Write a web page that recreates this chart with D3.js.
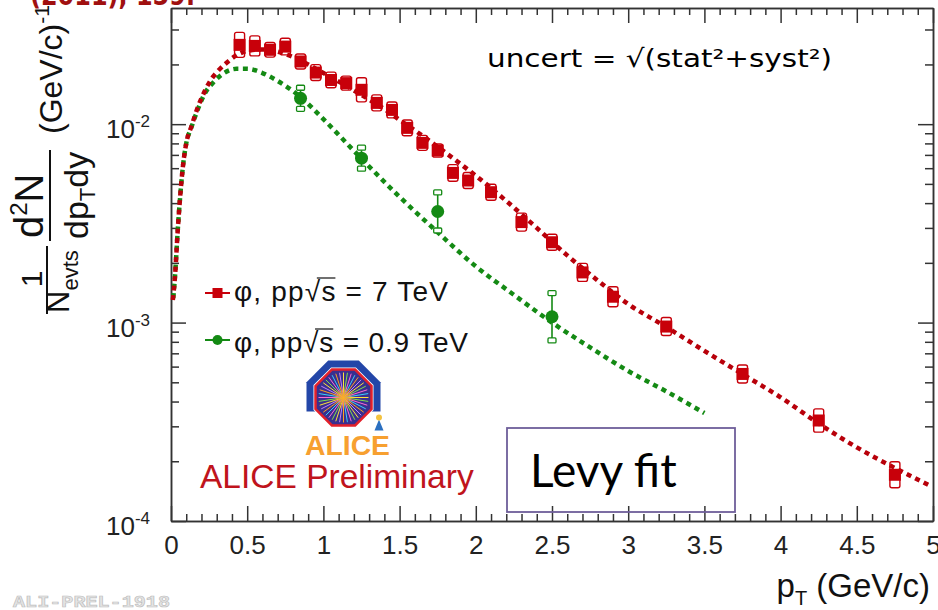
<!DOCTYPE html>
<html>
<head>
<meta charset="utf-8">
<script src="https://cdn.jsdelivr.net/npm/d3@7"></script>
<style>
    body { margin: 0; background: #fff; }
    svg { display: block; font-family: "Liberation Sans", Arial, sans-serif; }
</style>
</head>
<body>
<div id="wrapper"></div>
<script>
// phi meson pT spectra
const ptRed = [0.45, 0.55, 0.65, 0.75, 0.85, 0.95, 1.05, 1.15, 1.25, 1.35, 1.45, 1.55, 1.65, 1.75, 1.85, 1.95, 2.1, 2.3, 2.5, 2.7, 2.9, 3.25, 3.75, 4.25, 4.75]
const yieldRed = [0.0251, 0.0248, 0.0237, 0.0246, 0.0207, 0.0182, 0.0167, 0.0161, 0.0149, 0.0128, 0.0118, 0.00958, 0.00805, 0.00736, 0.00568, 0.00520, 0.00454, 0.00321, 0.00254, 0.00179, 0.00135, 0.000955, 0.000551, 0.000321, 0.000171]
const errRed = [0.156, 0.123, 0.088, 0.101, 0.091, 0.097, 0.095, 0.085, 0.150, 0.097, 0.097, 0.095, 0.091, 0.079, 0.101, 0.097, 0.097, 0.110, 0.097, 0.110, 0.123, 0.110, 0.110, 0.145, 0.163]

const ptGreen = [0.85, 1.25, 1.75, 2.5]
const yieldGreen = [0.0135, 0.00674, 0.00363, 0.00107]
const errGreen = [0.130, 0.130, 0.247, 0.316]

// Levy fit curves, sampled by eye along the dotted lines
const fitRedPt = [0.012, 0.026, 0.044, 0.06, 0.08, 0.10, 0.135, 0.18, 0.22, 0.27, 0.31, 0.365, 0.42, 0.5, 0.6, 0.7, 0.8, 0.9, 1.0, 1.1, 1.2, 1.3, 1.4, 1.5, 1.6, 1.7, 1.8, 1.9, 2.0, 2.2, 2.4, 2.6, 2.8, 3.0, 3.25, 3.5, 3.75, 4.0, 4.25, 4.5, 4.75, 4.97]
const fitRedVal = [0.00130, 0.0017, 0.0029, 0.0043, 0.0063, 0.0080, 0.0098, 0.0124, 0.0146, 0.0171, 0.0186, 0.0204, 0.0220, 0.0234, 0.0238, 0.0232, 0.0218, 0.0200, 0.0181, 0.0164, 0.0148, 0.0133, 0.0119, 0.0105, 0.0093, 0.0082, 0.0072, 0.0063, 0.0055, 0.0041, 0.0030, 0.00218, 0.00163, 0.00124, 0.00095, 0.00072, 0.00055, 0.00042, 0.00031, 0.000235, 0.000185, 0.000152]
const fitGreenPt = [0.015, 0.026, 0.044, 0.06, 0.08, 0.10, 0.135, 0.18, 0.22, 0.28, 0.33, 0.43, 0.5, 0.6, 0.7, 0.85, 1.0, 1.25, 1.5, 1.75, 2.0, 2.25, 2.5, 2.75, 3.0, 3.25, 3.5]
const fitGreenVal = [0.00133, 0.0017, 0.0029, 0.0043, 0.0063, 0.0080, 0.0097, 0.0121, 0.0142, 0.0163, 0.0177, 0.0190, 0.0190, 0.0181, 0.0165, 0.0137, 0.0106, 0.0067, 0.0043, 0.00285, 0.00192, 0.00138, 0.00100, 0.00075, 0.00057, 0.00045, 0.00035]

const xTickLabels = [0, 0.5, 1, 1.5, 2, 2.5, 3, 3.5, 4, 4.5, 5]
const yTickLabels = [1e-4, 1e-3, 1e-2]
const yTickExp = ["-4", "-3", "-2"]

const legendLabels = ["7", "0.9"]

const red = "#c8000a"
const redLine = "#b8000a"
const green = "#148a14"
const axisColor = "#333"

const width = 938
const height = 610

const xScale = d3.scaleLinear().domain([0, 5]).range([171, 933])
const yScale = d3.scaleLog().domain([1e-4, 0.0385]).range([521, 8])

const svg = d3.select("#wrapper").append("svg")
    .attr("width", width)
    .attr("height", height)

// frame with inward ticks on all four sides
const minorX = d3.range(0, 51).map(i => i / 10).filter(v => !xTickLabels.includes(v))
const minorY = []
for (const e of [-4, -3, -2]) {
    for (let m = 2; m <= 9; m++) {
        const v = m * Math.pow(10, e)
        if (v <= 0.0385) minorY.push(v)
    }
}

function frameAxis(gen, values, size, transform, labels) {
    const g = svg.append("g").attr("transform", transform)
        .call(gen.tickValues(values).tickSizeInner(-size).tickSizeOuter(0)
            .tickPadding(15).tickFormat(labels ? (d => d) : ""))
    g.selectAll("line,path").attr("stroke", axisColor).attr("stroke-width", 1.5)
    g.selectAll("text").attr("font-size", 26).attr("fill", "#222")
        .attr("font-family", "Liberation Sans, Arial, sans-serif")
    return g
}

frameAxis(d3.axisBottom(xScale), minorX, 7, "translate(0,521)")
frameAxis(d3.axisBottom(xScale), xTickLabels, 15, "translate(0,521)", true)
frameAxis(d3.axisTop(xScale), minorX, 7, "translate(0,8)")
frameAxis(d3.axisTop(xScale), xTickLabels, 15, "translate(0,8)")
frameAxis(d3.axisLeft(yScale), minorY, 8, "translate(171,0)")
frameAxis(d3.axisLeft(yScale), yTickLabels, 15, "translate(171,0)")
frameAxis(d3.axisRight(yScale), minorY, 8, "translate(933,0)")
frameAxis(d3.axisRight(yScale), yTickLabels, 15, "translate(933,0)")

// y tick labels with exponents
yTickLabels.forEach((v, i) => {
    const t = svg.append("text")
        .attr("x", 150)
        .attr("y", yScale(v) + 14)
        .attr("text-anchor", "end")
        .attr("font-size", 26)
        .attr("fill", "#222")
    t.append("tspan").text("10")
    t.append("tspan").attr("font-size", 17).attr("dy", -11).text(yTickExp[i])
})

// x axis title
const xTitle = svg.append("text")
    .attr("x", 930)
    .attr("y", 597)
    .attr("text-anchor", "end")
    .attr("font-size", 33)
    .attr("fill", "#111")
xTitle.append("tspan").text("p")
xTitle.append("tspan").attr("font-size", 20).attr("dy", 8).text("T")
xTitle.append("tspan").attr("dy", -8).text(" (GeV/c)")

// y axis title, drawn in a rotated frame
const yTitle = svg.append("g")
    .attr("transform", "rotate(-90)")
    .attr("fill", "#111")
yTitle.append("text").attr("x", -279).attr("y", 42).attr("text-anchor", "middle")
    .attr("font-size", 30).text("1")
yTitle.append("line").attr("x1", -314).attr("x2", -246).attr("y1", 47).attr("y2", 47)
    .attr("stroke", "#111").attr("stroke-width", 2)
const nEvts = yTitle.append("text").attr("x", -313).attr("y", 69).attr("font-size", 31)
nEvts.append("tspan").text("N")
nEvts.append("tspan").attr("font-size", 22).attr("dy", 9).text("evts")

const d2n = yTitle.append("text").attr("x", -238).attr("y", 43).attr("font-size", 40)
d2n.append("tspan").text("d")
d2n.append("tspan").attr("font-size", 24).attr("dy", -16).text("2")
d2n.append("tspan").attr("dy", 16).text("N")
yTitle.append("line").attr("x1", -241).attr("x2", -150).attr("y1", 50).attr("y2", 50)
    .attr("stroke", "#111").attr("stroke-width", 2)
const dpdy = yTitle.append("text").attr("x", -239).attr("y", 88).attr("font-size", 34)
dpdy.append("tspan").text("dp")
dpdy.append("tspan").attr("font-size", 22).attr("dy", 7).text("T")
dpdy.append("tspan").attr("dy", -7).text("dy")

const unit = yTitle.append("text").attr("x", -134).attr("y", 62).attr("font-size", 32)
unit.append("tspan").text("(GeV/c)")
unit.append("tspan").attr("font-size", 21).attr("dy", -13).text("-1")

// Levy fit curves
const lineGen = d3.line()
    .x(d => xScale(d[0]))
    .y(d => yScale(d[1]))
    .curve(d3.curveMonotoneX)

const fits = [
    { pts: fitGreenPt.map((p, i) => [p, fitGreenVal[i]]), color: green },
    { pts: fitRedPt.map((p, i) => [p, fitRedVal[i]]), color: redLine },
]
svg.append("g").selectAll("path")
    .data(fits)
    .join("path")
    .attr("d", d => lineGen(d.pts))
    .attr("fill", "none")
    .attr("stroke", d => d.color)
    .attr("stroke-width", 4.5)
    .attr("stroke-dasharray", "5 4.5")

// 7 TeV points: systematic boxes + square markers
const redData = ptRed.map((pt, i) => ({ pt, v: yieldRed[i], e: errRed[i] }))
const redG = svg.append("g")
redG.selectAll("rect.syst")
    .data(redData)
    .join("rect")
    .attr("class", "syst")
    .attr("x", d => xScale(d.pt) - 5)
    .attr("width", 10)
    .attr("y", d => yScale(d.v * (1 + d.e)))
    .attr("height", d => yScale(d.v / (1 + d.e)) - yScale(d.v * (1 + d.e)))
    .attr("rx", 2)
    .attr("fill", "none")
    .attr("stroke", red)
    .attr("stroke-width", 1.4)
redG.selectAll("rect.marker")
    .data(redData)
    .join("rect")
    .attr("class", "marker")
    .attr("x", d => xScale(d.pt) - 6)
    .attr("y", d => yScale(d.v) - 6)
    .attr("width", 12)
    .attr("height", 12)
    .attr("fill", red)

// 0.9 TeV points: error bars + circles
const greenData = ptGreen.map((pt, i) => ({ pt, v: yieldGreen[i], e: errGreen[i] }))
const greenG = svg.append("g")
greenG.selectAll("line")
    .data(greenData)
    .join("line")
    .attr("x1", d => xScale(d.pt))
    .attr("x2", d => xScale(d.pt))
    .attr("y1", d => yScale(d.v * (1 + d.e)))
    .attr("y2", d => yScale(d.v / (1 + d.e)))
    .attr("stroke", green)
    .attr("stroke-width", 1.6)
greenG.selectAll("rect.cap")
    .data(greenData.flatMap(d => [{ pt: d.pt, y: d.v * (1 + d.e) }, { pt: d.pt, y: d.v / (1 + d.e) }]))
    .join("rect")
    .attr("class", "cap")
    .attr("x", d => xScale(d.pt) - 4)
    .attr("y", d => yScale(d.y) - 2.5)
    .attr("width", 8)
    .attr("height", 5)
    .attr("rx", 1)
    .attr("fill", "#fff")
    .attr("stroke", green)
    .attr("stroke-width", 1.3)
greenG.selectAll("circle")
    .data(greenData)
    .join("circle")
    .attr("cx", d => xScale(d.pt))
    .attr("cy", d => yScale(d.v))
    .attr("r", 6.5)
    .attr("fill", green)

// legend
const legend = svg.append("g")
const legendRows = [
    { color: red, y: 293, base: 301, len: 214, label: legendLabels[0], shape: "square" },
    { color: green, y: 340, base: 352, len: 234, label: legendLabels[1], shape: "circle" },
]
legendRows.forEach(row => {
    legend.append("line").attr("x1", 205).attr("x2", 230).attr("y1", row.y).attr("y2", row.y)
        .attr("stroke", row.color).attr("stroke-width", 2)
    if (row.shape === "square") {
        legend.append("rect").attr("x", 212.5).attr("y", row.y - 5).attr("width", 10).attr("height", 10)
            .attr("fill", row.color)
    } else {
        legend.append("circle").attr("cx", 217.5).attr("cy", row.y).attr("r", 5).attr("fill", row.color)
    }
    const str = `φ, pp√s = ${row.label} TeV`
    const t = legend.append("text")
        .attr("x", 234)
        .attr("y", row.base)
        .attr("font-size", 28)
        .attr("fill", "#111")
        .attr("textLength", row.len)
        .attr("lengthAdjust", "spacing")
        .text(str)
    // overline across the square root
    const node = t.node()
    const iRoot = str.indexOf("√")
    const x0 = node.getStartPositionOfChar(iRoot).x + 12
    const x1 = node.getEndPositionOfChar(iRoot + 1).x
    legend.append("line").attr("x1", x0).attr("x2", x1)
        .attr("y1", row.base - 23).attr("y2", row.base - 23)
        .attr("stroke", "#111").attr("stroke-width", 1.2)
})

// ALICE logo
const logo = svg.append("g").attr("transform", "translate(343.5,397.5)")
const octagon = r => {
    const R = r / Math.cos(Math.PI / 8)
    return d3.range(8).map(k => {
        const a = Math.PI / 8 + k * Math.PI / 4
        return [R * Math.cos(a), R * Math.sin(a)]
    })
}
const defs = svg.append("defs")
defs.append("clipPath").attr("id", "magnetClip")
    .append("rect").attr("x", -45).attr("y", -45).attr("width", 90).attr("height", 59)
const glow = defs.append("radialGradient").attr("id", "glow")
glow.append("stop").attr("offset", "0%").attr("stop-color", "#ffb020").attr("stop-opacity", 1)
glow.append("stop").attr("offset", "100%").attr("stop-color", "#ff7a10").attr("stop-opacity", 0)

logo.append("polygon").attr("points", octagon(37).join(" "))
    .attr("fill", "#2346a8").attr("clip-path", "url(#magnetClip)")
logo.append("polygon").attr("points", octagon(30).join(" ")).attr("fill", "#fff")
logo.append("polygon").attr("points", octagon(28).join(" "))
    .attr("fill", "#3a2f8f").attr("stroke", "#e3202a").attr("stroke-width", 2.5)
const rayColors = ["#ffe23a", "#7de04a", "#ff6ad5", "#38d0ff", "#ffa020", "#c080ff"]
logo.append("g").selectAll("line")
    .data(d3.range(40))
    .join("line")
    .attr("x1", 0).attr("y1", 0)
    .attr("x2", k => 25 * Math.cos(k * Math.PI / 20))
    .attr("y2", k => 25 * Math.sin(k * Math.PI / 20))
    .attr("stroke", k => rayColors[k % rayColors.length])
    .attr("stroke-width", 1)
logo.append("circle").attr("r", 11).attr("fill", "url(#glow)")
// little Alice figure
logo.append("path").attr("d", "M31,33 L40,33 L35.5,22 Z").attr("fill", "#2a6fc0")
logo.append("circle").attr("cx", 35.5).attr("cy", 20).attr("r", 3).attr("fill", "#f3c240")

svg.append("text")
    .attr("x", 305).attr("y", 455)
    .attr("font-size", 28).attr("font-weight", "bold")
    .attr("fill", "#f7a030")
    .attr("textLength", 85).attr("lengthAdjust", "spacingAndGlyphs")
    .text("ALICE")

svg.append("text")
    .attr("x", 200).attr("y", 488)
    .attr("font-size", 33.5)
    .attr("fill", "#c0141c")
    .text("ALICE Preliminary")

// annotations
svg.append("rect")
    .attr("x", 507).attr("y", 428).attr("width", 228).attr("height", 84)
    .attr("fill", "none").attr("stroke", "#6e5e9a").attr("stroke-width", 1.8)
svg.append("text")
    .attr("x", 530).attr("y", 487)
    .attr("font-family", "Lato, 'Open Sans', sans-serif")
    .attr("font-size", 46)
    .attr("fill", "#000")
    .text("Levy fit")

svg.append("text")
    .attr("x", 487).attr("y", 67)
    .attr("font-family", "'DejaVu Sans', sans-serif")
    .attr("font-size", 25)
    .attr("fill", "#000")
    .attr("textLength", 345).attr("lengthAdjust", "spacingAndGlyphs")
    .text("uncert = √(stat²+syst²)")

svg.append("text")
    .attr("x", 30).attr("y", 5)
    .attr("font-family", "'DejaVu Sans', sans-serif")
    .attr("font-weight", "bold")
    .attr("font-size", 28)
    .attr("fill", "#a01010")
    .attr("textLength", 165).attr("lengthAdjust", "spacingAndGlyphs")
    .text("(2011), 159.")

svg.append("text")
    .attr("x", 13).attr("y", 607)
    .attr("font-family", "'Liberation Mono', monospace")
    .attr("font-weight", "bold")
    .attr("font-size", 16)
    .attr("fill", "#e4e4e4")
    .attr("stroke", "#bdbdbd")
    .attr("stroke-width", 0.6)
    .attr("textLength", 157).attr("lengthAdjust", "spacingAndGlyphs")
    .text("ALI-PREL-1918")
</script>
</body>
</html>
